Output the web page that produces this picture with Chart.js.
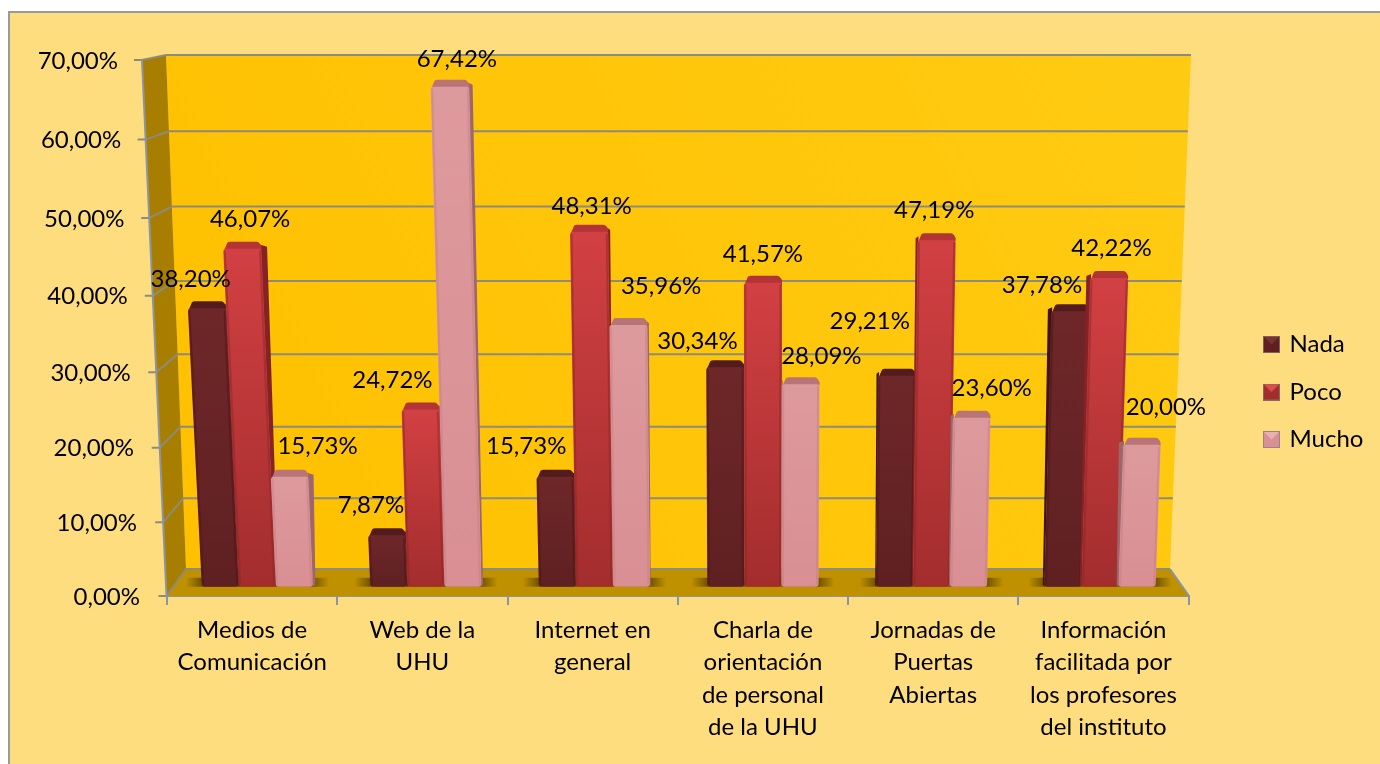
<!DOCTYPE html>
<html><head><meta charset="utf-8">
<style>html,body{margin:0;padding:0;background:#fff}canvas{display:block}</style>
<script src="https://cdn.jsdelivr.net/npm/chart.js@4"></script>
</head><body><canvas id="c" width="1380" height="764"></canvas>
<script>
const categories = [
  ['Medios de','Comunicación'],
  ['Web de la','UHU'],
  ['Internet en','general'],
  ['Charla de','orientación','de personal','de la UHU'],
  ['Jornadas de','Puertas','Abiertas'],
  ['Información','facilitada por','los profesores','del instituto']
];
const seriesNames = ['Nada','Poco','Mucho'];
const nada  = [38.20, 7.87, 15.73, 30.34, 29.21, 37.78];
const poco  = [46.07, 24.72, 48.31, 41.57, 47.19, 42.22];
const mucho = [15.73, 67.42, 35.96, 28.09, 23.60, 20.00];

// hand-placed data label offsets from each bar's top centre
const labelDX = [[-24,-14,-29,-28,-26,-24],[-2,-30,-1,0,1,8],[28,-3,31,21,21,25]];
const labelDY = [[-22,-23,-23,-19,-48,-19],[-23,-22,-19,-22,-23,-23],[-23,-20,-32,-21,-23,-31]];

const FONT = 'Lato';
const fmt = v => v.toFixed(2).replace('.', ',') + '%';
const palette = [
  {top:'#6e2729',bot:'#5f2022',edge:'#4a1517',cap:'#541b1d',side:'#3f1315',light:'#7a3335'},
  {top:'#d24043',bot:'#a32d2d',edge:'#8a2325',cap:'#b23436',side:'#842224',light:'#d9504f'},
  {top:'#dd9a9d',bot:'#d98f93',edge:'#c07f84',cap:'#b97478',side:'#9c666b',light:'#e9b0b3'}
];
const CX = 763, SHRINK = 0.99, LEAN = 8.5e-5;
const project = x => CX + (x - CX) * SHRINK;

// linear scale seen in perspective: lower values are slightly compressed
class PerspectiveScale extends Chart.LinearScale {
  getPixelForDecimal(d){
    const c = this.options.bend || 0;
    return super.getPixelForDecimal(d / (1 + c * (1 - d)));
  }
}
PerspectiveScale.id = 'perspective';
PerspectiveScale.defaults = Chart.LinearScale.defaults;
Chart.register(PerspectiveScale);

function legendIcon(p){
  const c = document.createElement('canvas'); c.width = 17; c.height = 17;
  const g = c.getContext('2d');
  g.fillStyle = p.bot; g.fillRect(0,0,17,17);
  g.fillStyle = p.light; g.beginPath(); g.moveTo(1,1); g.lineTo(16,1); g.lineTo(8.5,8.5); g.closePath(); g.fill();
  g.strokeStyle = '#7f7f7f'; g.globalAlpha=.7; g.strokeRect(.5,.5,16,16); g.globalAlpha=1;
  return c;
}
const icons = palette.map(legendIcon);

function paintBar(ctx, el, p){
  const w = el.width, base = el.base, top = el.y, h = base - top;
  const x0 = project(el.x - w/2), x1 = project(el.x + w/2);
  const lean = x => (x - CX) * LEAN * h;
  const tl = x0 + lean(x0), tr = x1 + lean(x1);
  const cap = 7;
  const fy = top + cap;
  const side = Math.abs((x0 + x1)/2 - CX) * 0.011;
  const dir = (x0 + x1)/2 < CX ? 1 : -1;
  const r = 3;
  // side face
  ctx.fillStyle = p.side;
  ctx.beginPath();
  if (dir > 0) {
    ctx.moveTo(tr - 1, top + 3); ctx.lineTo(tr + side, top + 5); ctx.lineTo(x1 + side*0.5, base - 2); ctx.lineTo(x1, base);
  } else {
    ctx.moveTo(tl + 1, top + 3); ctx.lineTo(tl - side, top + 5); ctx.lineTo(x0 - side*0.5, base - 2); ctx.lineTo(x0, base);
  }
  ctx.closePath(); ctx.fill();
  // cap
  ctx.fillStyle = p.cap;
  ctx.beginPath();
  ctx.moveTo(tl + 1, fy + 1);
  ctx.lineTo(tl + 4, top + 1);
  ctx.quadraticCurveTo(tl + 5, top, tl + 7, top);
  ctx.lineTo(tr - 5, top);
  ctx.quadraticCurveTo(tr - 2, top, tr, fy - 2);
  ctx.lineTo(tr, fy + 1);
  ctx.closePath(); ctx.fill();
  // front face
  const g = ctx.createLinearGradient(0, fy, 0, base);
  g.addColorStop(0, p.top); g.addColorStop(1, p.bot);
  ctx.fillStyle = g;
  ctx.beginPath();
  ctx.moveTo(tl + r, fy);
  ctx.lineTo(tr - r, fy);
  ctx.quadraticCurveTo(tr, fy, tr, fy + r);
  ctx.lineTo(x1, base - r);
  ctx.quadraticCurveTo(x1, base, x1 - r, base);
  ctx.lineTo(x0 + r, base);
  ctx.quadraticCurveTo(x0, base, x0, base - r);
  ctx.lineTo(tl, fy + r);
  ctx.quadraticCurveTo(tl, fy, tl + r, fy);
  ctx.closePath(); ctx.fill();
  // bevel edges
  ctx.strokeStyle = p.edge; ctx.globalAlpha = .45; ctx.lineWidth = 2;
  ctx.beginPath(); ctx.moveTo(tl + 1.5, fy + 2); ctx.lineTo(x0 + 1.5, base - 2); ctx.stroke();
  ctx.beginPath(); ctx.moveTo(tr - 1.5, fy + 2); ctx.lineTo(x1 - 1.5, base - 2); ctx.stroke();
  ctx.globalAlpha = 1;
}

const scene = {
  id: 'scene',
  beforeDraw(chart){
    const ctx = chart.ctx;
    ctx.save();
    ctx.fillStyle = '#fff'; ctx.fillRect(0,0,chart.width,chart.height);
    ctx.fillStyle = '#fedd7f'; ctx.fillRect(9,12,chart.width-9,chart.height-12);
    ctx.strokeStyle = '#9a9a9a'; ctx.lineWidth = 2;
    ctx.beginPath(); ctx.moveTo(9,chart.height); ctx.lineTo(9,12); ctx.lineTo(chart.width,12); ctx.stroke();
    ctx.restore();
  },
  beforeDatasetsDraw(chart){
    const ctx = chart.ctx, y = chart.scales.y;
    const fy0 = y.getPixelForValue(0), fy7 = y.getPixelForValue(70);
    const BACK_T = 55, BACK_B = 569;
    const backY = py => BACK_B + (py - fy0) * (BACK_B - BACK_T) / (fy0 - fy7);
    const frontX = py => 166.5 + (py - fy0) * 24.5 / (fy0 - fy7);
    const backLX = py => 186 + (py - BACK_B) * 20 / (BACK_B - BACK_T);
    const backRX = py => 1170 - (py - BACK_B) * 21 / (BACK_B - BACK_T);
    ctx.save();
    // back wall
    const wg = ctx.createLinearGradient(167,BACK_B,1191,BACK_T);
    wg.addColorStop(0,'#ffc000'); wg.addColorStop(1,'#ffcb12');
    ctx.fillStyle = wg;
    ctx.beginPath(); ctx.moveTo(166,BACK_T); ctx.lineTo(1191,BACK_T); ctx.lineTo(1170,BACK_B); ctx.lineTo(186,BACK_B); ctx.closePath(); ctx.fill();
    // side wall
    ctx.fillStyle = '#a87e00';
    ctx.beginPath(); ctx.moveTo(frontX(fy7),fy7); ctx.lineTo(166,BACK_T); ctx.lineTo(186,BACK_B); ctx.lineTo(166.5,fy0); ctx.closePath(); ctx.fill();
    // floor
    ctx.fillStyle = '#bf9000';
    ctx.beginPath(); ctx.moveTo(166.5,fy0); ctx.lineTo(186,BACK_B); ctx.lineTo(1170,BACK_B); ctx.lineTo(1189,fy0); ctx.closePath(); ctx.fill();
    // grid on walls, axis and tick marks
    ctx.strokeStyle = '#8c8b7f'; ctx.lineWidth = 2;
    y.ticks.forEach(t => {
      const py = y.getPixelForValue(t.value), by = backY(py);
      ctx.beginPath();
      ctx.moveTo(frontX(py) - 8, py);
      ctx.lineTo(frontX(py), py);
      ctx.lineTo(backLX(by), by);
      ctx.lineTo(backRX(by), by);
      ctx.stroke();
    });
    ctx.strokeStyle = '#8a94a4';
    ctx.beginPath(); ctx.moveTo(frontX(fy7),fy7); ctx.lineTo(166.5,fy0); ctx.stroke();
    ctx.beginPath(); ctx.moveTo(1170,BACK_B); ctx.lineTo(1189,fy0); ctx.stroke();
    // floor shadows under bar groups
    const metas = [0,1,2].map(i => chart.getDatasetMeta(i).data);
    metas[0].forEach((el,i) => {
      const l = project(el.x - el.width/2), r = project(metas[2][i].x + metas[2][i].width/2), b = el.base;
      const F = 16;
      const g = ctx.createLinearGradient(l-F,0,r+F,0);
      const fade = F/(r-l+2*F);
      g.addColorStop(0,'rgba(80,58,0,0)'); g.addColorStop(fade,'rgba(80,58,0,.7)');
      g.addColorStop(1-fade,'rgba(80,58,0,.7)'); g.addColorStop(1,'rgba(80,58,0,0)');
      ctx.fillStyle = g;
      ctx.fillRect(l-F,b-9,r-l+2*F,9);
    });
    ctx.restore();
  },
  beforeDatasetDraw(){ return false; },
  afterDatasetsDraw(chart){
    const ctx = chart.ctx;
    ctx.save();
    [0,1,2].forEach(d => chart.getDatasetMeta(d).data.forEach(el => paintBar(ctx, el, palette[d])));
    ctx.fillStyle = '#000'; ctx.font = '24px ' + FONT;
    ctx.textAlign = 'center'; ctx.textBaseline = 'middle';
    [0,1,2].forEach(d => chart.getDatasetMeta(d).data.forEach((el,i) => {
      ctx.fillText(fmt(chart.data.datasets[d].data[i]), el.x + labelDX[d][i], el.y + labelDY[d][i]);
    }));
    ctx.restore();
  },
  afterLayout(chart){
    const lg = chart.legend;
    lg.left = 1242; lg.right = 1380; lg.top -= 20; lg.bottom -= 20;
    // slant y tick labels along the perspective axis
    const y = chart.scales.y;
    if (!y._slanted){
      y._slanted = true;
      const orig = y.getLabelItems.bind(y);
      y.getLabelItems = function(a){
        const items = orig(a);
        items.forEach(it => {
          if (it._done) return; it._done = true;
          const t = it.options.translation, py = t[1];
          t[0] = 118 + (py - 60) * 22 / 536;
          t[1] = py + 1;
        });
        return items;
      };
    }
  }
};

new Chart(document.getElementById('c'), {
  type: 'bar',
  plugins: [scene],
  data: {
    labels: categories,
    datasets: [
      {label: seriesNames[0], data: nada,  yAxisID: 'yBars', backgroundColor: palette[0].bot},
      {label: seriesNames[1], data: poco,  yAxisID: 'yBars', backgroundColor: palette[1].bot},
      {label: seriesNames[2], data: mucho, yAxisID: 'yBars', backgroundColor: palette[2].bot}
    ]
  },
  options: {
    responsive: false, animation: false,
    layout: {padding: {top: 60, left: 0, right: 60, bottom: 0}},
    datasets: {bar: {categoryPercentage: 0.66, barPercentage: 1}},
    scales: {
      x: {
        offset: true,
        border: {display: true, color: '#8a94a4', width: 2},
        grid: {offset: true, drawOnChartArea: false, drawTicks: true, tickLength: 9, color: '#8a94a4', lineWidth: 2},
        ticks: {color: '#000', font: {family: FONT, size: 24, lineHeight: '32.5px'}, padding: 9, maxRotation: 0, autoSkip: false},
        afterFit(s){ s.height = 168; }
      },
      y: {
        type: 'perspective', bend: 0.046,
        min: 0, max: 70,
        border: {display: false},
        grid: {display: false},
        ticks: {stepSize: 10, padding: 8, color: '#000', font: {family: FONT, size: 24}, callback: v => fmt(v)},
        afterFit(s){ s.width = 167; }
      },
      yBars: {type: 'perspective', bend: 0.015, min: -1.25, max: 70, display: false, position: 'left'}
    },
    plugins: {
      tooltip: {enabled: false},
      legend: {
        position: 'right',
        align: 'center',
        labels: {
          color: '#000', font: {family: FONT, size: 24},
          boxWidth: 12, boxHeight: 17, padding: 23.5,
          usePointStyle: true,
          generateLabels(chart){
            return seriesNames.map((n,i) => ({text: n, datasetIndex: i, fontColor: '#000', pointStyle: icons[i], lineWidth: 0, strokeStyle: 'transparent', fillStyle: palette[i].bot}));
          }
        },
        onClick: null
      }
    }
  }
});
</script></body></html>
